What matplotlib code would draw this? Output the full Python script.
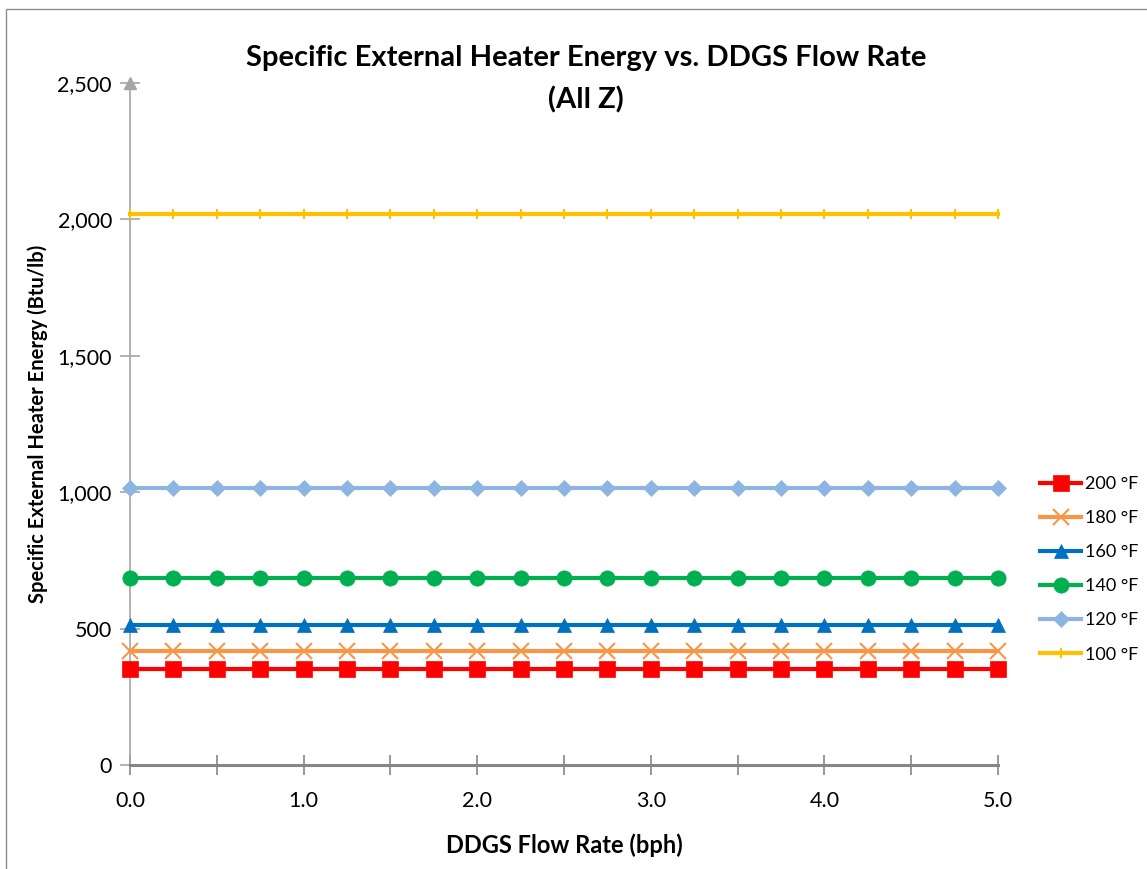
import matplotlib.pyplot as plt
from matplotlib.patches import Rectangle
from matplotlib.ticker import FuncFormatter, MultipleLocator

# flow rate (bph) at each computed point
flow = [0.0, 0.25, 0.5, 0.75, 1.0, 1.25, 1.5, 1.75, 2.0, 2.25, 2.5,
        2.75, 3.0, 3.25, 3.5, 3.75, 4.0, 4.25, 4.5, 4.75, 5.0]

# specific heater energy (Btu/lb) for each heater temperature
e_200 = [351] * len(flow)
e_180 = [418] * len(flow)
e_160 = [513] * len(flow)
e_140 = [684] * len(flow)
e_120 = [1017] * len(flow)
e_100 = [2019] * len(flow)

labels = ['200 °F', '180 °F', '160 °F', '140 °F', '120 °F', '100 °F']
series = [e_200, e_180, e_160, e_140, e_120, e_100]
colors = ['#FF0000', '#F79646', '#0070C0', '#00B050', '#8EB4E3', '#FFC000']
markers = ['s', 'x', '^', 'o', 'D', '|']
msizes = [11, 11, 10, 11, 8, 7]

plt.rcParams['font.family'] = ['Lato', 'DejaVu Sans']

W, H = 1147, 869
fig = plt.figure(figsize=(W / 100, H / 100), dpi=100)
ax = fig.add_axes([130 / W, (H - 765) / H, (998 - 130) / W, (765 - 83) / H])

for lab, ys, c, m, ms in zip(labels, series, colors, markers, msizes):
    ax.plot(flow, ys, color=c, lw=3, marker=m, markersize=ms,
            markeredgewidth=1.5 if m in ('x', '|') else 0.5,
            markeredgecolor=c, label=lab, clip_on=False, zorder=3)

ax.set_xlim(0, 5)
ax.set_ylim(0, 2500)
ax.xaxis.set_major_locator(MultipleLocator(0.5))
ax.xaxis.set_major_formatter(
    FuncFormatter(lambda v, p: f'{v:.1f}' if abs(v - round(v)) < 1e-6 else ''))
ax.yaxis.set_major_locator(MultipleLocator(500))
ax.yaxis.set_major_formatter(FuncFormatter(lambda v, p: f'{int(v):,}'))

for side in ('top', 'right'):
    ax.spines[side].set_visible(False)
ax.spines['left'].set_color('#A6A6A6')
ax.spines['left'].set_linewidth(1.2)
ax.spines['bottom'].set_color('#868686')
ax.spines['bottom'].set_linewidth(2.2)
ax.tick_params(axis='x', direction='inout', length=14, width=1.2,
               color='#868686', labelsize=15.5, pad=12)
ax.tick_params(axis='y', direction='inout', length=14, width=1.2,
               color='#A6A6A6', labelsize=15.5, pad=6)

# arrow head on top of the value axis
ax.plot([0], [2500], marker='^', color='#A6A6A6', markersize=8,
        clip_on=False, zorder=2)

ax.set_xlabel('DDGS Flow Rate (bph)', fontsize=17, fontweight='bold', labelpad=16)
ax.set_ylabel('Specific External Heater Energy (Btu/lb)', fontsize=14.5,
              fontweight='bold', labelpad=7)

fig.text(586 / W, 1 - 58 / H, 'Specific External Heater Energy vs. DDGS Flow Rate',
         ha='center', va='center', fontsize=21, fontweight='bold')
fig.text(586 / W, 1 - 100 / H, '(All Z)', ha='center', va='center',
         fontsize=21, fontweight='bold')

ax.legend(loc='upper left', bbox_to_anchor=(1.04, 0.434), frameon=False,
          fontsize=13, handlelength=2.3, handletextpad=0.2, labelspacing=1.0,
          borderaxespad=0)

# chart area border
fig.add_artist(Rectangle((6 / W, -0.1), 1.2, 1.1 - 9 / H,
                         transform=fig.transFigure, fill=False,
                         edgecolor='#8C8C8C', lw=1.0))

fig.savefig('out.png', dpi=100)
